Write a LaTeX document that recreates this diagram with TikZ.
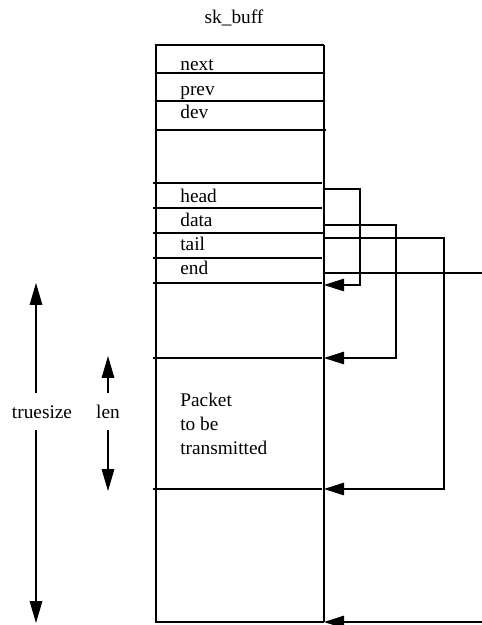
\documentclass[tikz,border=0pt]{standalone}
\usepackage{fontspec}
\setmainfont{Liberation Serif}
\usetikzlibrary{arrows.meta}
\begin{document}
\begin{tikzpicture}[x=0.02cm,y=-0.02cm,
  fld/.style={font=\fontsize{11}{13}\selectfont,anchor=base west,inner sep=0pt},
  dim/.style={font=\fontsize{11}{13}\selectfont,anchor=base,inner sep=0pt},
  rule/.style={line width=0.6pt},
  edge/.style={line width=1pt},
  ptr/.style={line width=0.6pt,-{Triangle[length=11.5pt,width=7.2pt]}},
  span/.style={line width=0.6pt,-{Triangle[length=12.5pt,width=7.2pt]}}]
\useasboundingbox (0,0) rectangle (482,625);
% title and struct outline
\node[dim] (title) at (234,24) {sk\_buff};
\draw[rule] (324,45) -- (156,45) -- (156,622) -- (324,622);
\draw[edge] (324,45) -- (324,622);
% field separators
\draw[rule] (156,73) -- (324,73);
\draw[rule] (156,101) -- (324,101);
\draw[rule] (156,130) -- (326,130);
\draw[rule] (153,183) -- (322,183);
\draw[rule] (153,208) -- (322,208);
\draw[rule] (153,233) -- (324,233);
\draw[rule] (153,258) -- (322,258);
\draw[rule] (153,283) -- (322,283);
\draw[rule] (153,358) -- (322,358);
\draw[rule] (153,489) -- (322,489);
% field names
\node[fld] (next) at (180,71) {next};
\node[fld] (prev) at (180,95) {prev};
\node[fld] (dev) at (180,118) {dev};
\node[fld] (head) at (180,202) {head};
\node[fld] (data) at (180,226) {data};
\node[fld] (tail) at (180,250) {tail};
\node[fld] (end) at (180,274) {end};
\node[fld] (pkt1) at (180,406) {Packet};
\node[fld] (pkt2) at (180,430) {to be};
\node[fld] (pkt3) at (180,454) {transmitted};
% pointer ends
\coordinate (headsrc) at (324,189);
\coordinate (headdst) at (324,285);
\coordinate (datasrc) at (324,225);
\coordinate (datadst) at (324,358);
\coordinate (tailsrc) at (324,238);
\coordinate (taildst) at (324,489);
\coordinate (endsrc) at (324,273);
\coordinate (endout) at (482,273);
\coordinate (endin) at (482,622);
\coordinate (enddst) at (324,622);
\draw[ptr] (headsrc) -- (360,189) -- (360,285) -- (headdst);
\draw[ptr] (datasrc) -- (396,225) -- (396,358) -- (datadst);
\draw[ptr] (tailsrc) -- (444,238) -- (444,489) -- (taildst);
\draw[rule] (endsrc) -- (endout);
\draw[ptr] (endin) -- (enddst);
% sizes
\node[dim] (truesize) at (42,418) {truesize};
\node[dim] (len) at (108,418) {len};
\coordinate (tstop) at (36,283);
\coordinate (tsbot) at (36,623);
\coordinate (lentop) at (108,356);
\coordinate (lenbot) at (108,491);
\draw[span] (36,393) -- (tstop);
\draw[span] (36,430) -- (tsbot);
\draw[span] (108,393) -- (lentop);
\draw[span] (108,430) -- (lenbot);
\end{tikzpicture}
\end{document}
